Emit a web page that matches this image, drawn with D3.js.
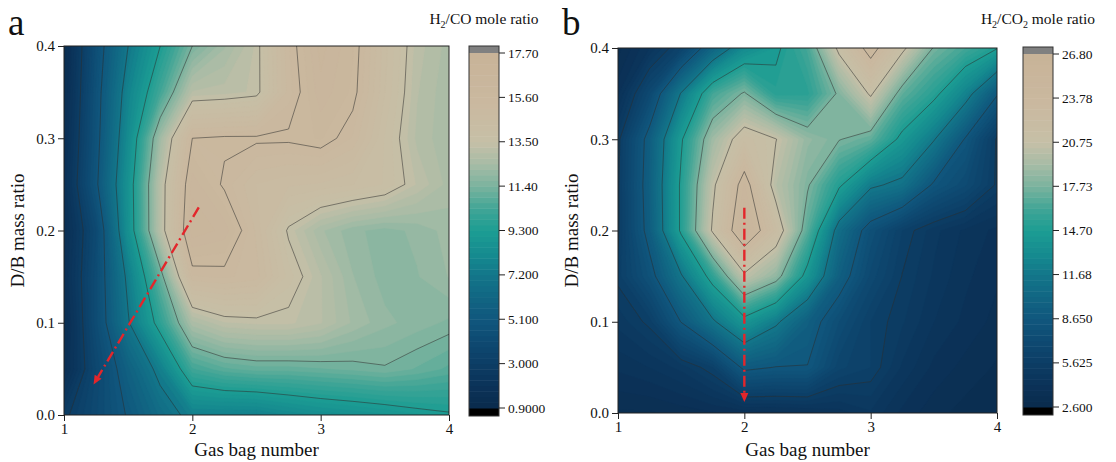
<!DOCTYPE html>
<html><head><meta charset="utf-8">
<script src="https://cdn.jsdelivr.net/npm/d3@7"></script>
<style>body{margin:0;background:#fff}svg{display:block}text{font-family:"Liberation Serif","Times New Roman",serif;fill:#111}</style>
</head><body><svg id="c" width="1116" height="462"></svg>
<script>
// ---- data ----
const gasBag = [1, 1.25, 1.5, 1.75, 2, 2.25, 2.5, 2.75, 3, 3.25, 3.5, 3.75, 4];
const dbRatio = [0, 0.05, 0.10, 0.15, 0.20, 0.25, 0.30, 0.35, 0.40];
// H2/CO mole ratio, one row per D/B ratio (ascending), columns = gas bag
const h2co = [
  [2.8, 4.0, 5.2, 6.5, 7.6, 7.6, 7.6, 8.0, 8.3, 8.5, 8.7, 9.0, 9.2],
  [1.5, 3.8, 5.8, 7.6, 10.3, 10.8, 11.0, 11.0, 11.1, 11.2, 11.35, 11.1, 10.8],
  [1.3, 4.2, 7.1, 9.8, 12.6, 13.2, 13.3, 13.3, 13.0, 12.4, 12.0, 11.8, 11.6],
  [1.6, 4.2, 7.5, 11.0, 15.3, 15.4, 15.2, 13.9, 13.0, 12.2, 11.8, 11.9, 12.2],
  [1.5, 4.0, 8.5, 13.0, 16.6, 16.3, 15.0, 13.4, 12.5, 12.0, 11.8, 12.0, 12.3],
  [1.7, 4.9, 8.6, 13.0, 16.3, 15.5, 14.8, 14.6, 14.5, 14.3, 14.0, 13.2, 12.6],
  [1.5, 4.7, 8.2, 12.3, 15.6, 15.7, 15.7, 15.7, 15.9, 15.3, 14.0, 12.9, 12.5],
  [1.3, 4.6, 7.8, 10.3, 13.0, 13.1, 13.3, 15.2, 16.3, 15.8, 14.3, 13.0, 12.5],
  [1.2, 4.4, 7.2, 9.3, 11.4, 12.4, 13.3, 15.3, 16.5, 15.9, 14.4, 13.1, 12.6]
];
// H2/CO2 mole ratio
const h2co2 = [
  [3.3, 3.3, 3.5, 3.7, 3.8, 3.9, 4.0, 4.3, 4.8, 4.0, 3.5, 3.2, 3.0],
  [4.2, 4.5, 5.0, 6.0, 9.0, 8.6, 8.6, 6.5, 6.0, 4.8, 4.0, 3.6, 3.3],
  [5.0, 5.8, 8.7, 11.4, 14.0, 12.0, 9.5, 7.5, 6.0, 5.3, 4.5, 4.0, 3.6],
  [5.8, 8.0, 11.5, 15.5, 20.4, 18.5, 14.0, 9.5, 7.0, 5.6, 4.8, 4.2, 3.8],
  [5.5, 9.3, 15.0, 21.0, 25.6, 22.0, 16.8, 10.8, 7.8, 6.0, 5.0, 4.4, 4.0],
  [5.5, 9.5, 15.0, 20.4, 24.6, 20.0, 17.9, 15.0, 12.0, 11.2, 8.4, 7.2, 5.5],
  [5.4, 9.3, 14.5, 19.0, 21.8, 20.8, 18.6, 17.8, 17.0, 14.2, 11.8, 8.5, 5.5],
  [4.0, 7.0, 11.8, 16.2, 17.9, 15.2, 15.3, 18.0, 21.0, 17.0, 15.2, 12.5, 8.8],
  [3.2, 4.5, 6.3, 10.0, 13.0, 14.4, 16.3, 21.2, 24.6, 21.2, 17.6, 16.2, 14.8]
];
const ticksCO = ["0.9000", "3.000", "5.100", "7.200", "9.300", "11.40", "13.50", "15.60", "17.70"];
const ticksCO2 = ["2.600", "5.625", "8.650", "11.68", "14.70", "17.73", "20.75", "23.78", "26.80"];
const xTicks = [1, 2, 3, 4];
const yTicks = [0.0, 0.1, 0.2, 0.3, 0.4];
const arrowA = [[2.05, 0.225], [1.23, 0.033]];
const arrowB = [[2.0, 0.225], [2.0, 0.012]];

// ---- colormap ----
const cmap = d3.scaleLinear()
  .domain([0, 0.06, 0.125, 0.19, 0.25, 0.31, 0.375, 0.43, 0.5, 0.56, 0.625, 0.69, 0.75, 0.85, 1.0])
  .range(["#0a2b4c","#0b3258","#0c3d65","#0e4a72","#10577d","#116583","#13768a","#158a8f","#1c9d93","#40a596","#7ab39e","#a8bca6","#c6c0a7","#cab9a0","#c8b398"])
  .interpolate(d3.interpolateRgb);

const svg = d3.select("#c");
const NBANDS = 64;

function panel(opt) {
  const {x0, x1, y0, y1, data, ticks, letter, sub2, cb, arrow, id} = opt;
  const vmin = +ticks[0], vmax = +ticks[ticks.length - 1];
  const xs = d3.scaleLinear().domain([1, 4]).range([x0, x1]);
  const ys = d3.scaleLinear().domain([0, 0.4]).range([y1, y0]);
  const nx = gasBag.length, ny = dbRatio.length;
  const dx = gasBag[1] - gasBag[0], dy = dbRatio[1] - dbRatio[0];
  const flat = [].concat(...data);
  const proj = d3.geoTransform({point(px, py) {
    this.stream.point(xs(gasBag[0] + (px - 0.5) * dx), ys(dbRatio[0] + (py - 0.5) * dy));
  }});
  const path = d3.geoPath(proj);
  svg.append("clipPath").attr("id", "clip" + id).append("rect")
    .attr("x", x0).attr("y", y0).attr("width", x1 - x0).attr("height", y1 - y0);
  const g = svg.append("g").attr("clip-path", `url(#clip${id})`);
  const step = (vmax - vmin) / NBANDS;
  const th = d3.range(NBANDS).map(i => vmin + i * step);
  const fills = d3.contours().size([nx, ny]).thresholds(th)(flat);
  g.selectAll("path.f").data(fills).join("path").attr("class", "f")
    .attr("d", path)
    .attr("fill", d => cmap((d.value + step / 2 - vmin) / (vmax - vmin)))
    .attr("stroke", d => cmap((d.value + step / 2 - vmin) / (vmax - vmin)))
    .attr("stroke-width", 0.6);
  const lv = ticks.slice(1, -1).map(Number);
  const lines = d3.contours().size([nx, ny]).thresholds(lv)(flat);
  g.selectAll("path.l").data(lines).join("path").attr("class", "l")
    .attr("d", path).attr("fill", "none")
    .attr("stroke", "rgba(45,45,45,0.65)").attr("stroke-width", 0.8);

  // arrow
  const p0 = [xs(arrow[0][0]), ys(arrow[0][1])], p1 = [xs(arrow[1][0]), ys(arrow[1][1])];
  const ang = Math.atan2(p1[1] - p0[1], p1[0] - p0[0]);
  const hl = 9, hw = 4;
  const pb = [p1[0] - hl * Math.cos(ang), p1[1] - hl * Math.sin(ang)];
  svg.append("line").attr("x1", p0[0]).attr("y1", p0[1]).attr("x2", pb[0]).attr("y2", pb[1])
    .attr("stroke", "#e3262b").attr("stroke-width", 2.4).attr("stroke-dasharray", "11,4,2,4");
  svg.append("path").attr("d", `M${p1[0]},${p1[1]}L${pb[0] - hw * Math.sin(ang)},${pb[1] + hw * Math.cos(ang)}L${pb[0] + hw * Math.sin(ang)},${pb[1] - hw * Math.cos(ang)}Z`)
    .attr("fill", "#e3262b");

  // frame & axes
  svg.append("rect").attr("x", x0).attr("y", y0).attr("width", x1 - x0).attr("height", y1 - y0)
    .attr("fill", "none").attr("stroke", "#222").attr("stroke-width", 1);
  const xa = svg.append("g").attr("transform", `translate(0,${y1})`)
    .call(d3.axisBottom(xs).tickValues(xTicks).tickFormat(d3.format("d")).tickSize(6).tickPadding(2));
  const ya = svg.append("g").attr("transform", `translate(${x0},0)`)
    .call(d3.axisLeft(ys).tickValues(yTicks).tickFormat(d3.format(".1f")).tickSize(6).tickPadding(3));
  [xa, ya].forEach(a => {
    a.select(".domain").remove();
    a.selectAll("line").attr("stroke", "#222");
    a.selectAll("text").attr("font-size", 15).attr("fill", "#111")
      .style("font-family", '"Liberation Serif",serif');
  });
  svg.append("text").attr("x", (x0 + x1) / 2).attr("y", 456).attr("text-anchor", "middle")
    .attr("font-size", 19).text("Gas bag number");
  svg.append("text").attr("transform", `translate(${x0 - 40},${(y0 + y1) / 2}) rotate(-90)`)
    .attr("text-anchor", "middle").attr("font-size", 19).text("D/B mass ratio");
  svg.append("text").attr("x", letter.x).attr("y", 35).attr("font-size", 37).text(letter.t);

  // colorbar
  const cs = d3.scaleLinear().domain([vmin, vmax]).range([cb.bot, cb.top]);
  const cg = svg.append("g");
  cg.append("rect").attr("x", cb.x).attr("y", cb.top - 7).attr("width", 30).attr("height", 7).attr("fill", "#808080");
  cg.append("rect").attr("x", cb.x).attr("y", cb.bot).attr("width", 30).attr("height", 8).attr("fill", "#000");
  cg.selectAll("rect.b").data(th).join("rect").attr("class", "b")
    .attr("x", cb.x).attr("width", 30)
    .attr("y", d => cs(d + step)).attr("height", d => cs(d) - cs(d + step) + 0.5)
    .attr("fill", d => cmap((d + step / 2 - vmin) / (vmax - vmin)));
  cg.append("rect").attr("x", cb.x).attr("y", cb.top - 7).attr("width", 30).attr("height", cb.bot - cb.top + 15)
    .attr("fill", "none").attr("stroke", "#333").attr("stroke-width", 1);
  ticks.forEach(t => {
    const yy = cs(+t);
    cg.append("line").attr("x1", cb.x + 30).attr("x2", cb.x + 36).attr("y1", yy).attr("y2", yy).attr("stroke", "#222");
    cg.append("text").attr("x", cb.x + 39).attr("y", yy + 4.5).attr("font-size", 13.5).text(t);
  });
  const tt = svg.append("text").attr("x", cb.x + 15).attr("y", 24).attr("text-anchor", "middle").attr("font-size", 15.5);
  tt.append("tspan").text("H");
  tt.append("tspan").attr("font-size", 10).attr("dy", 4).text("2");
  if (sub2) {
    tt.append("tspan").attr("dy", -4).text("/CO");
    tt.append("tspan").attr("font-size", 10).attr("dy", 4).text("2");
    tt.append("tspan").attr("dy", -4).text(" mole ratio");
  } else {
    tt.append("tspan").attr("dy", -4).text("/CO mole ratio");
  }
}

panel({id: "a", x0: 64, x1: 449, y0: 46, y1: 415, data: h2co, ticks: ticksCO,
  letter: {x: 8, t: "a"}, sub2: false, cb: {x: 469, top: 53, bot: 408}, arrow: arrowA});
panel({id: "b", x0: 618, x1: 997, y0: 48, y1: 413, data: h2co2, ticks: ticksCO2,
  letter: {x: 562, t: "b"}, sub2: true, cb: {x: 1023, top: 54, bot: 407}, arrow: arrowB});
</script></body></html>
